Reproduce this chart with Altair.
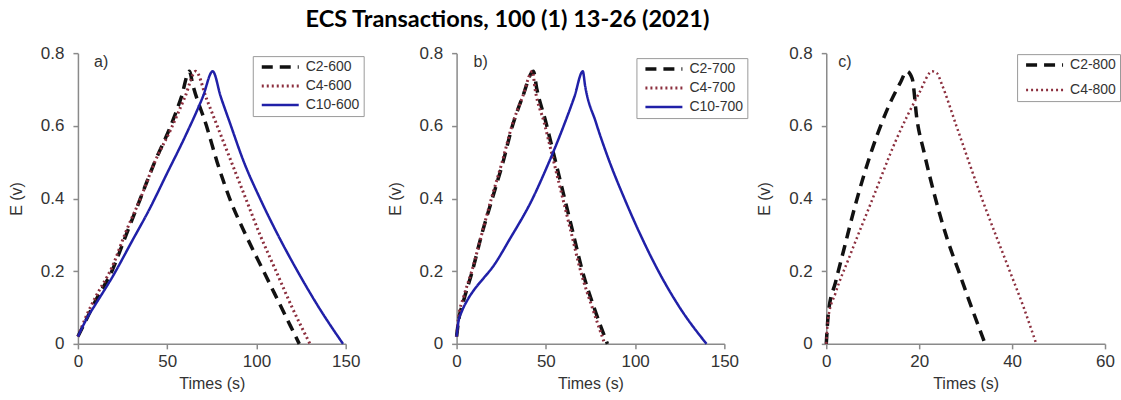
import altair as alt
import pandas as pd

# ---- galvanostatic charge/discharge curves, time (s) vs potential E (V) ----

# panel a) carbons activated at 600
c2_600_t = [0, 5, 10, 19, 27, 35, 43, 52, 58, 62.4, 64.5, 72, 78, 85, 94, 104, 114, 124]
c2_600_E = [0.02, 0.07, 0.12, 0.20, 0.30, 0.40, 0.50, 0.60, 0.68, 0.75, 0.71, 0.60, 0.50, 0.40, 0.30, 0.20, 0.10, 0.0]
c4_600_t = [0, 5, 10, 19, 27, 35, 43, 52, 60, 66, 72, 78, 86, 94, 102, 111, 120, 130]
c4_600_E = [0.02, 0.08, 0.13, 0.21, 0.31, 0.40, 0.50, 0.59, 0.68, 0.75, 0.675, 0.60, 0.50, 0.40, 0.30, 0.20, 0.10, 0.0]
c10_600_t = [0, 5, 10, 20, 30, 40, 50, 60, 70, 75.5, 80, 85, 93, 102, 112, 123, 135, 148.5]
c10_600_E = [0.02, 0.07, 0.11, 0.19, 0.28, 0.37, 0.47, 0.57, 0.68, 0.75, 0.68, 0.61, 0.50, 0.40, 0.30, 0.20, 0.10, 0.0]

# panel b) carbons activated at 700
c2_700_t = [0, 1, 4, 8.8, 14, 20, 26, 31.3, 37, 43, 45, 50, 55, 60, 65, 70.5, 77, 84.5]
c2_700_E = [0.02, 0.06, 0.12, 0.20, 0.30, 0.40, 0.50, 0.60, 0.68, 0.75, 0.70, 0.61, 0.51, 0.41, 0.31, 0.20, 0.10, 0.0]
c4_700_t = [0, 1, 4, 8.5, 14, 19.5, 25.5, 31, 37, 42.5, 44, 49, 54, 59, 64, 69.5, 76, 83]
c4_700_E = [0.02, 0.07, 0.13, 0.20, 0.30, 0.40, 0.50, 0.60, 0.68, 0.75, 0.70, 0.61, 0.51, 0.41, 0.31, 0.20, 0.10, 0.0]
c10_700_t = [0, 1, 3, 6, 10, 15, 20, 30, 42.6, 50, 60, 66, 70.7, 72, 78, 85, 94, 103, 112, 125, 140]
c10_700_E = [0.02, 0.06, 0.09, 0.12, 0.15, 0.18, 0.21, 0.29, 0.40, 0.48, 0.60, 0.68, 0.75, 0.71, 0.61, 0.51, 0.40, 0.30, 0.21, 0.10, 0.0]

# panel c) carbons activated at 800
c2_800_t = [0, 0.5, 2, 4, 6, 8, 10, 12, 14, 16, 17.3, 18.5, 19.5, 21, 23.5, 26, 28.5, 31, 34.2]
c2_800_E = [0.0, 0.09, 0.17, 0.27, 0.37, 0.46, 0.54, 0.61, 0.67, 0.72, 0.75, 0.73, 0.62, 0.53, 0.40, 0.29, 0.20, 0.11, 0.0]
c4_800_t = [0, 0.4, 2, 5, 10, 15, 20, 22.8, 23.8, 25, 28, 33.5, 39.5, 42.5, 45.2]
c4_800_E = [0.0, 0.07, 0.14, 0.24, 0.40, 0.56, 0.69, 0.75, 0.745, 0.71, 0.60, 0.40, 0.20, 0.10, 0.0]

# series styles: C2 black dashed, C4 maroon dotted, C10 blue solid
STYLE = {
    "C2": ("#111111", [11, 7], 3.5),
    "C4": ("#8c2f3e", [2, 3], 2.5),
    "C10": ("#2020a8", [1, 0], 3.0),
}

FONT = "Liberation Sans, Arial, sans-serif"
TEXT = "#333333"
Y_TICKS = [0, 0.2, 0.4, 0.6, 0.8]
PLOT_H = 291


def panel(series, x_max, x_ticks, width, leg_x, leg_y, row_pad, tag, tag_t):
    rows = []
    for name, ts, es in series:
        for t, e in zip(ts, es):
            rows.append({"series": name, "t": t, "E": e})
    df = pd.DataFrame(rows)
    names = [s[0] for s in series]
    prefixes = [n.split("-")[0] for n in names]
    colors = [STYLE[p][0] for p in prefixes]
    dashes = [STYLE[p][1] for p in prefixes]
    widths = [STYLE[p][2] for p in prefixes]

    legend = alt.Legend(
        title=None, orient="none", legendX=leg_x, legendY=leg_y,
        symbolType="stroke", symbolSize=1369, symbolStrokeWidth=2.5,
        labelFont=FONT, labelFontSize=14, labelColor=TEXT, labelLimit=200,
        strokeColor="#9a9a9a", fillColor="white", padding=4,
        rowPadding=row_pad, clipHeight=14, symbolOffset=3, labelOffset=5,
    )

    x_enc = alt.X("t:Q", scale=alt.Scale(domain=[0, x_max], nice=False),
                  axis=alt.Axis(values=x_ticks, title="Times (s)", labelFlush=False))
    y_enc = alt.Y("E:Q", scale=alt.Scale(domain=[0, 0.8], nice=False),
                  axis=alt.Axis(values=Y_TICKS, format="~g", title="E (v)", labelFlush=False))

    lines = alt.Chart(df).mark_line(interpolate="monotone").encode(
        x=x_enc,
        y=y_enc,
        color=alt.Color("series:N", sort=names,
                        scale=alt.Scale(domain=names, range=colors), legend=legend),
        strokeDash=alt.StrokeDash("series:N", sort=names,
                                  scale=alt.Scale(domain=names, range=dashes), legend=legend),
        strokeWidth=alt.StrokeWidth("series:N", sort=names,
                                    scale=alt.Scale(domain=names, range=widths), legend=None),
    )

    label_df = pd.DataFrame({"t": [tag_t], "E": [0.775], "tag": [tag]})
    label = alt.Chart(label_df).mark_text(
        align="left", baseline="middle", font=FONT, fontSize=16, color=TEXT
    ).encode(x="t:Q", y="E:Q", text="tag:N")

    return alt.layer(lines, label).properties(width=width, height=PLOT_H)


pa = panel(
    [("C2-600", c2_600_t, c2_600_E), ("C4-600", c4_600_t, c4_600_E),
     ("C10-600", c10_600_t, c10_600_E)],
    150, [0, 50, 100, 150], 268, 175, 3, 5, "a)", 9,
)
pb = panel(
    [("C2-700", c2_700_t, c2_700_E), ("C4-700", c4_700_t, c4_700_E),
     ("C10-700", c10_700_t, c10_700_E)],
    150, [0, 50, 100, 150], 268, 180, 5, 5, "b)", 9.5,
)
pc = panel(
    [("C2-800", c2_800_t, c2_800_E), ("C4-800", c4_800_t, c4_800_E)],
    60, [0, 20, 40, 60], 279, 191, 1, 11, "c)", 2.6,
)

right = alt.hconcat(pb, pc, spacing=102, bounds="flush").resolve_scale(
    color="independent", strokeDash="independent", strokeWidth="independent"
).resolve_legend(color="independent", strokeDash="independent")

chart = alt.hconcat(pa, right, spacing=111, bounds="flush").resolve_scale(
    color="independent", strokeDash="independent", strokeWidth="independent"
).resolve_legend(color="independent", strokeDash="independent").properties(
    title=alt.TitleParams(
        "ECS Transactions, 100 (1) 13-26 (2021)",
        font="Lato", fontSize=23.5, fontWeight="bold", color="#000000",
        anchor="middle", dx=-57, offset=13,
    ),
    padding={"left": 8, "top": 7, "right": 0, "bottom": 0},
).configure_view(stroke=None).configure_axis(
    grid=False,
    domainColor="#8a8a8a", domainWidth=1.5,
    tickColor="#8a8a8a", tickWidth=1.5, tickSize=5,
    labelFont=FONT, labelFontSize=17, labelColor=TEXT, labelPadding=5,
    titleFont=FONT, titleFontSize=16, titleFontWeight="normal", titleColor=TEXT,
).configure_axisY(labelPadding=9, titlePadding=16).configure_axisX(titlePadding=6)

chart.save("out.html", embed_options={"renderer": "svg", "actions": False})
